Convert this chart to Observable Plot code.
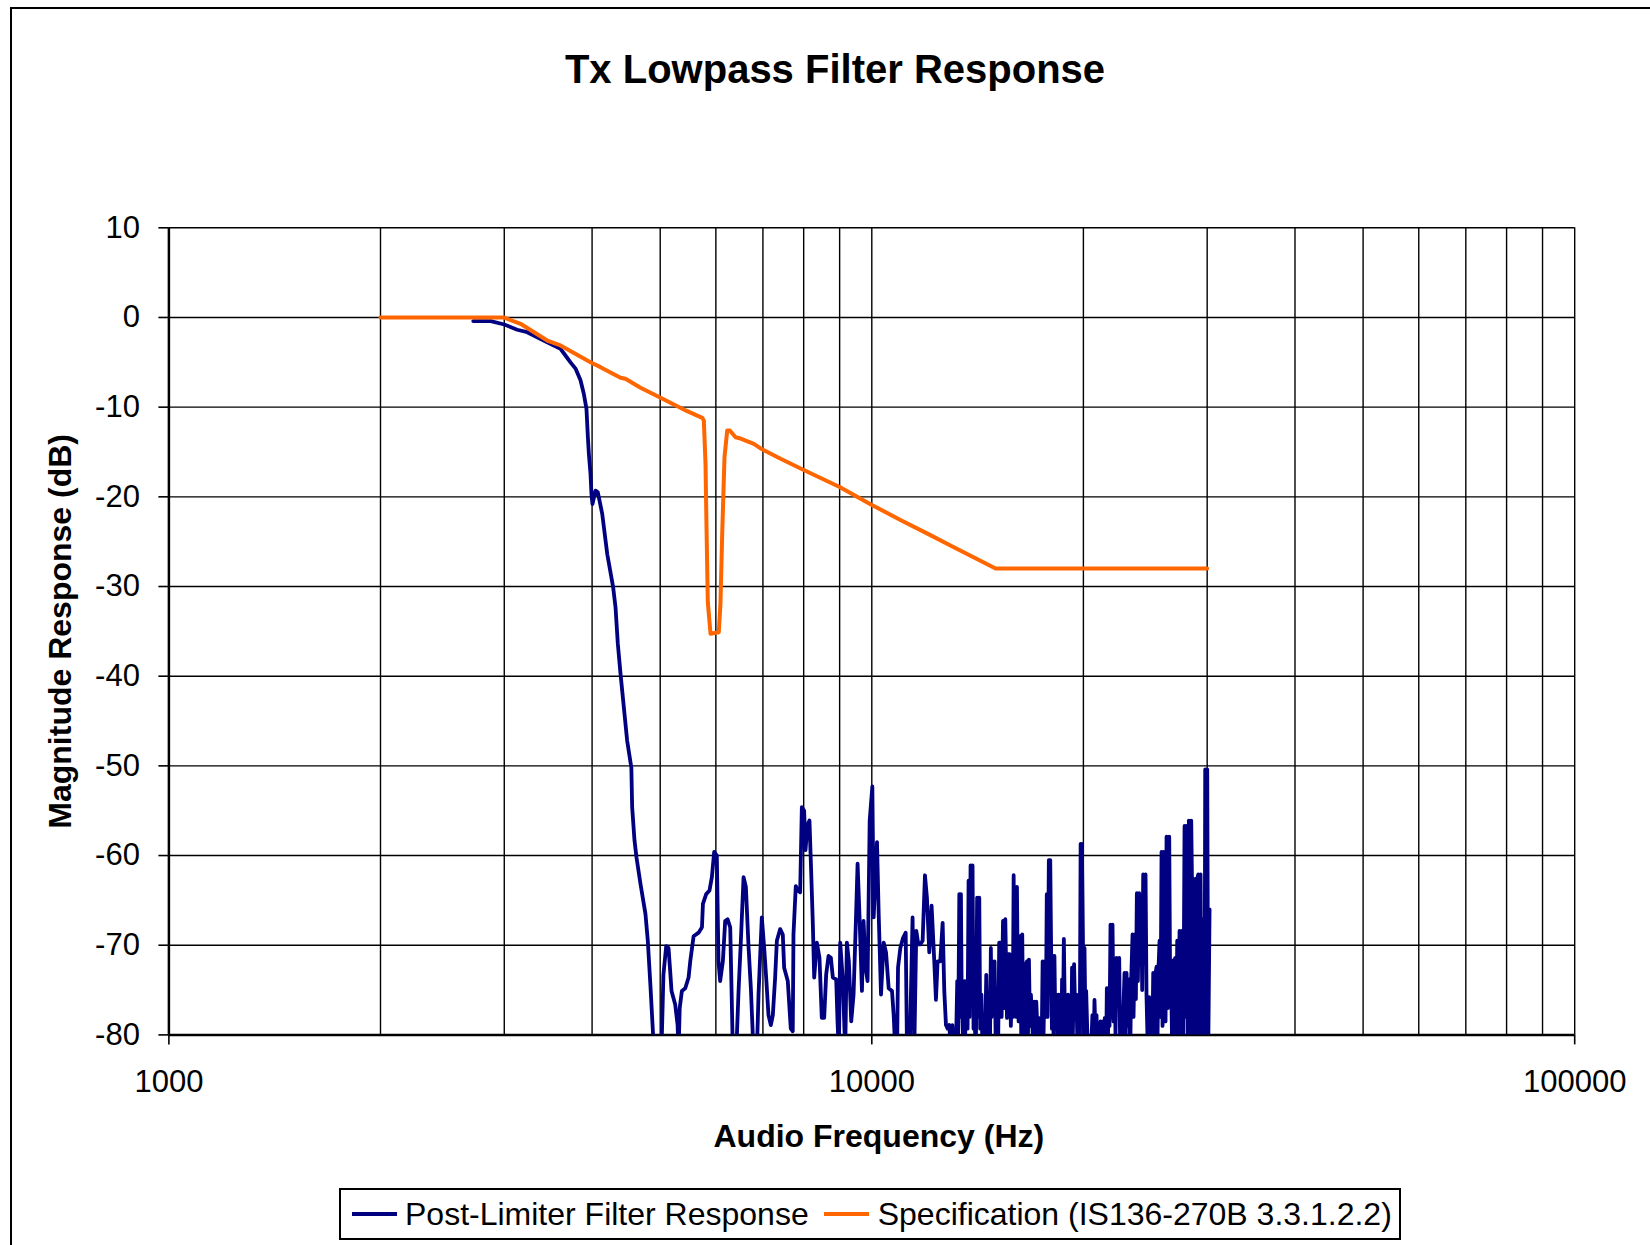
<!DOCTYPE html>
<html><head><meta charset="utf-8">
<script src="https://cdn.jsdelivr.net/npm/d3@7"></script>
<script src="https://cdn.jsdelivr.net/npm/@observablehq/plot@0.6"></script>
<style>
html,body{margin:0;padding:0;overflow:hidden;background:#fff;}
#page{position:relative;width:1650px;height:1245px;overflow:hidden;font-family:"Liberation Sans",Arial,sans-serif;color:#000;}
#frame{position:absolute;left:10px;top:7px;width:1700px;height:1300px;border:2.5px solid #000;}
#title{position:absolute;left:235px;top:49px;width:1200px;text-align:center;font-size:40px;line-height:40px;font-weight:bold;}
#chart{position:absolute;left:0;top:110px;}
#legend{position:absolute;left:339px;top:1188px;width:1062px;height:52px;box-sizing:border-box;border:2px solid #000;display:flex;align-items:center;padding-left:11px;font-size:32px;line-height:48px;white-space:nowrap;background:#fff;}
#legend .sw{display:inline-block;width:45px;height:4px;}
</style></head><body>
<div id="page"><div id="frame"></div><div id="title"></div><div id="chart"></div><div id="legend"></div></div>
<script>
const chartTitle = "Tx Lowpass Filter Response";
const xTitle = "Audio Frequency (Hz)";
const yTitle = "Magnitude Response (dB)";
const seriesNames = ["Post-Limiter Filter Response", "Specification (IS136-270B 3.3.1.2.2)"];
const seriesColors = ["#000080", "#FF6600"];
const xTicks = [1000, 10000, 100000];
const xGrid = [2000,3000,4000,5000,6000,7000,8000,9000,10000,20000,30000,40000,50000,60000,70000,80000,90000,100000];
const yTicks = [-80,-70,-60,-50,-40,-30,-20,-10,0,10];
const yGrid = [-70,-60,-50,-40,-30,-20,-10,0,10];

// [frequency Hz, dB]
const responsePoints = [
[2710,-0.4],[2870,-0.4],[3000,-0.78],[3130,-1.37],[3234,-1.64],[3453,-2.76],[3607,-3.5],[3666,-4.24],
[3727,-5.0],[3789,-5.7],[3851,-7.0],[3893,-8.5],[3927,-10.2],[3945,-13.3],[3958,-15.2],[3979,-17.4],
[3992,-19.7],[4005,-20.8],[4045,-19.3],[4076,-19.5],[4135,-21.9],[4204,-26.4],[4286,-30.1],[4319,-32.3],
[4352,-36.4],[4390,-39.7],[4487,-47.2],[4549,-50.2],[4561,-54.6],[4596,-58.3],[4626,-60.2],[4688,-63.2],
[4764,-66.5],[4801,-69.5],[4844,-74.7],[4900,-82],[5020,-82],[5053,-73.3],[5099,-70.1],[5138,-70.3],
[5166,-72.9],[5189,-75.1],[5252,-76.6],[5293,-78.9],[5310,-82],[5330,-77],[5368,-75.1],[5428,-74.8],
[5487,-73.6],[5517,-71.8],[5578,-69.0],[5670,-68.6],[5733,-68.0],[5751,-65.4],[5813,-64.3],[5876,-63.9],
[5922,-62.4],[5967,-59.6],[6019,-60.0],[6052,-71.8],[6085,-74.0],[6139,-71.8],[6186,-67.3],[6234,-67.1],
[6289,-68.0],[6344,-82],[6414,-82],[6463,-75.1],[6512,-69.5],[6570,-62.4],[6620,-63.5],[6678,-70.2],
[6729,-74.8],[6788,-82],[6862,-82],[6900,-75.5],[6975,-66.9],[7029,-70.3],[7075,-73.6],[7129,-77.8],
[7184,-78.9],[7231,-77.8],[7286,-73.6],[7327,-69.5],[7407,-68.2],[7471,-68.8],[7504,-72.5],[7594,-74.0],
[7669,-79.3],[7719,-79.6],[7737,-68.8],[7796,-63.4],[7848,-63.9],[7908,-64.1],[7952,-54.6],[8012,-55.0],
[8048,-59.4],[8100,-56.6],[8153,-56.1],[8198,-61.7],[8244,-67.7],[8280,-73.6],[8352,-69.7],[8425,-71.4],
[8489,-78.1],[8556,-78.1],[8611,-73.3],[8678,-71.2],[8745,-71.4],[8802,-73.6],[8899,-73.8],[8938,-78.5],
[8977,-82],[9017,-69.7],[9096,-74.0],[9166,-82],[9216,-69.7],[9276,-71.8],[9348,-78.5],[9420,-75.5],
[9492,-67.3],[9545,-60.9],[9607,-66.9],[9682,-75.1],[9734,-67.3],[9798,-72.5],[9862,-74.0],[9931,-56.1],
[10018,-52.3],[10062,-66.9],[10118,-62.4],[10172,-58.5],[10228,-66.5],[10306,-75.5],[10396,-69.7],[10477,-70.8],
[10569,-74.8],[10684,-75.1],[10743,-77.8],[10802,-82],[10862,-82],[10897,-72.5],[10980,-70.3],[11076,-69.2],
[11174,-68.6],[11223,-82],[11320,-82],[11429,-66.9],[11492,-82],[11569,-68.4],[11645,-69.9],[11720,-69.9],
[11812,-69.5],[11902,-62.2],[11979,-64.7],[12072,-70.8],[12164,-65.6],[12271,-71.8],[12339,-76.1],[12405,-71.8],
[12514,-71.8],[12612,-67.5],[12680,-75.1],[12750,-78.9],[12820,-79.3],[12890,-78.9],
[12960,-82],[13020,-78.9],[13072,-82],[13170,-82],[13230,-74.0],[13272,-80],[13320,-64.3],[13361,-78],
[13390,-64.3],[13419,-74.0],[13500,-82],[13550,-74.0],[13580,-80],[13630,-74],[13685,-79.3],[13730,-62.8],
[13773,-78],[13820,-61.1],[13865,-75],[13910,-61.1],[13955,-79.3],[14010,-78.5],[14061,-82],[14120,-64.7],
[14171,-78],[14220,-64.7],[14263,-79.3],[14320,-75.5],[14372,-82],[14430,-78.5],[14484,-82],[14550,-73.3],
[14612,-80],[14670,-78.5],[14723,-82],[14770,-70.3],[14805,-78],[14850,-71.8],[14900,-77],[14950,-71.8],
[15014,-82],[15070,-75.5],[15132,-80],[15180,-69.7],
[15236,-69.7],[15300,-78],[15370,-67.3],[15430,-77],[15486,-67.1],[15571,-78.1],[15640,-71],[15708,-71.0],
[15770,-79],[15828,-73.3],[15870,-78],[15915,-62.2],[15960,-76],[16000,-65.8],[16045,-78],[16088,-63.5],
[16130,-74],[16176,-78.5],[16220,-70],[16262,-69.0],[16315,-80],[16370,-68.8],[16410,-78],[16442,-73.3],
[16533,-82],[16580,-72],[16621,-71.8],[16680,-80],[16731,-71.6],[16790,-79],[16840,-75.5],[16988,-82],
[17030,-76.3],[17082,-80],[17140,-76.3],[17213,-80],[17270,-78.1],[17324,-82],[17440,-82],[17500,-71.8],
[17553,-80],[17620,-71.8],[17687,-78],[17740,-64.3],[17785,-78],[17860,-60.5],[17941,-60.5],[18040,-79.3],
[18090,-71.2],[18136,-80],[18190,-71.2],[18237,-78],[18300,-75.5],[18376,-80],[18440,-75.5],[18498,-79.3],
[18600,-82],[18650,-73.8],[18698,-80],[18760,-69.3],[18823,-78],[18880,-80],[18945,-79.3],[19020,-75.5],
[19090,-82],[19218,-82],[19270,-72.5],[19320,-80],[19400,-72.1],[19471,-78],[19550,-75.5],[19620,-82],
[19700,-79.3],[19760,-82],[19820,-58.7],[19856,-70],[19900,-58.7],[19966,-68.8],[20020,-80],[20072,-70.3],
[20130,-78],[20183,-75.1],[20294,-82],[20500,-82],[20600,-77.8],[20672,-82],[20740,-76.1],[20810,-80],
[20880,-77.8],[20945,-82],[21100,-82],
[21154,-78.5],[21223,-82],[21316,-78.5],[21386,-82],[21456,-78.1],[21550,-82],[21597,-74.8],[21668,-82],
[21716,-74.8],[21787,-79],[21859,-67.7],[21930,-78],[22002,-67.7],[22075,-78.5],[22147,-73.3],[22220,-80],
[22293,-71.4],[22391,-76],[22489,-71.4],[22563,-82],[22661,-82],[22785,-78],[22885,-73.1],[22960,-82],
[23036,-73.1],[23137,-79],[23238,-73.8],[23314,-82],[23391,-73.8],[23494,-68.8],[23570,-78],[23674,-68.8],
[23752,-76],[23829,-64.2],[23907,-74],[24012,-64.2],[24091,-72],[24170,-65.2],[24249,-75],[24329,-62.1],
[24409,-72],[24516,-62.1],[24596,-75.8],[24704,-82],[24812,-75.8],[24921,-82],[25057,-82],[25140,-73.1],
[25250,-82],[25333,-73.1],[25416,-72.4],[25499,-80],[25583,-72.4],[25667,-69.5],[25751,-78],[25835,-59.6],
[25920,-79],[26005,-59.6],[26091,-62.8],[26176,-78.5],[26262,-57.9],[26377,-77],[26493,-57.9],[26580,-76],
[26667,-74.2],[26754,-82],[26842,-71.7],[26930,-80],[27018,-71.4],[27107,-82],[27196,-69.5],[27286,-80],
[27405,-68.4],[27495,-80],[27616,-68.4],[27737,-82],[27858,-56.7],[27949,-78],[28041,-56.7],[28163,-82],
[28256,-56.1],[28349,-80],[28473,-56.1],[28566,-65.0],[28660,-80],[28754,-65.0],[28848,-62.6],[28943,-82],
[29038,-62.6],[29133,-62.1],[29229,-80],[29357,-62.1],[29453,-82],[29550,-67.1],[29647,-82],[29744,-82],
[29809,-50.4],[29907,-70],[30006,-50.4],[30104,-82],[30236,-66]
];

// [frequency Hz, dB]
const specPoints = [
[2000,0],[2996,0],[3164,-0.7],[3453,-2.57],[3607,-3.12],[3979,-5.0],[4112,-5.54],[4390,-6.73],
[4462,-6.84],[4688,-7.84],[5006,-8.96],[5228,-9.7],[5463,-10.45],[5738,-11.19],[5768,-11.49],[5800,-16.3],
[5819,-23.4],[5844,-31.75],[5896,-35.27],[6058,-35.1],[6091,-31.9],[6126,-24.1],[6172,-15.6],[6227,-12.6],
[6281,-12.6],[6400,-13.35],[6506,-13.5],[6795,-14.1],[6946,-14.6],[7417,-15.76],[8000,-17.0],[9000,-18.9],
[10000,-20.9],[11000,-22.6],[12000,-24.1],[13000,-25.5],[14000,-26.8],[15000,-28],[30000,-28]
];

document.getElementById("title").textContent = chartTitle;

const chart = Plot.plot({
  width: 1650,
  height: 1065,
  marginLeft: 168.4,
  marginRight: 75.8,
  marginTop: 117.3,
  marginBottom: 140.6,
  style: {fontFamily: "'Liberation Sans', Arial, sans-serif", fontSize: "31px", color: "#000", background: "transparent", overflow: "visible"},
  x: {type: "log", domain: [1000, 100000]},
  y: {domain: [-80, 10]},
  marks: [
    Plot.ruleX(xGrid, {stroke: "#000", strokeWidth: 1.4}),
    Plot.ruleY(yGrid, {stroke: "#000", strokeWidth: 1.4}),
    Plot.axisY({ticks: yTicks, tickSize: 10, tickPadding: 19, tickFormat: d => String(d), label: null, strokeWidth: 1.6, fontSize: 31}),
    Plot.axisX({ticks: xTicks, tickSize: 10, tickPadding: 25, tickFormat: d => String(d), label: null, strokeWidth: 1.6, fontSize: 31}),
    Plot.ruleX([1000], {stroke: "#000", strokeWidth: 2.5}),
    Plot.ruleY([-80], {stroke: "#000", strokeWidth: 2.5}),
    Plot.line(responsePoints, {x: d => d[0], y: d => d[1], stroke: seriesColors[0], strokeWidth: 3.8, clip: true}),
    Plot.line(specPoints, {x: d => d[0], y: d => d[1], stroke: seriesColors[1], strokeWidth: 4, clip: true}),
    Plot.text([xTitle], {text: d => d, frameAnchor: "bottom", dx: 7, dy: 89, lineAnchor: "top", textAnchor: "middle", fontSize: 32, fontWeight: "bold"}),
    Plot.text([yTitle], {text: d => d, frameAnchor: "left", dx: -108.6, rotate: -90, lineAnchor: "middle", textAnchor: "middle", fontSize: 32, fontWeight: "bold"})
  ]
});
document.getElementById("chart").appendChild(chart);

const legend = document.getElementById("legend");
seriesNames.forEach((name, i) => {
  const sw = document.createElement("span");
  sw.className = "sw";
  sw.style.background = seriesColors[i];
  sw.style.marginRight = i === 0 ? "8px" : "9px";
  if (i > 0) sw.style.marginLeft = "15px";
  const t = document.createElement("span");
  t.textContent = name;
  legend.appendChild(sw);
  legend.appendChild(t);
});
</script>
</body></html>
